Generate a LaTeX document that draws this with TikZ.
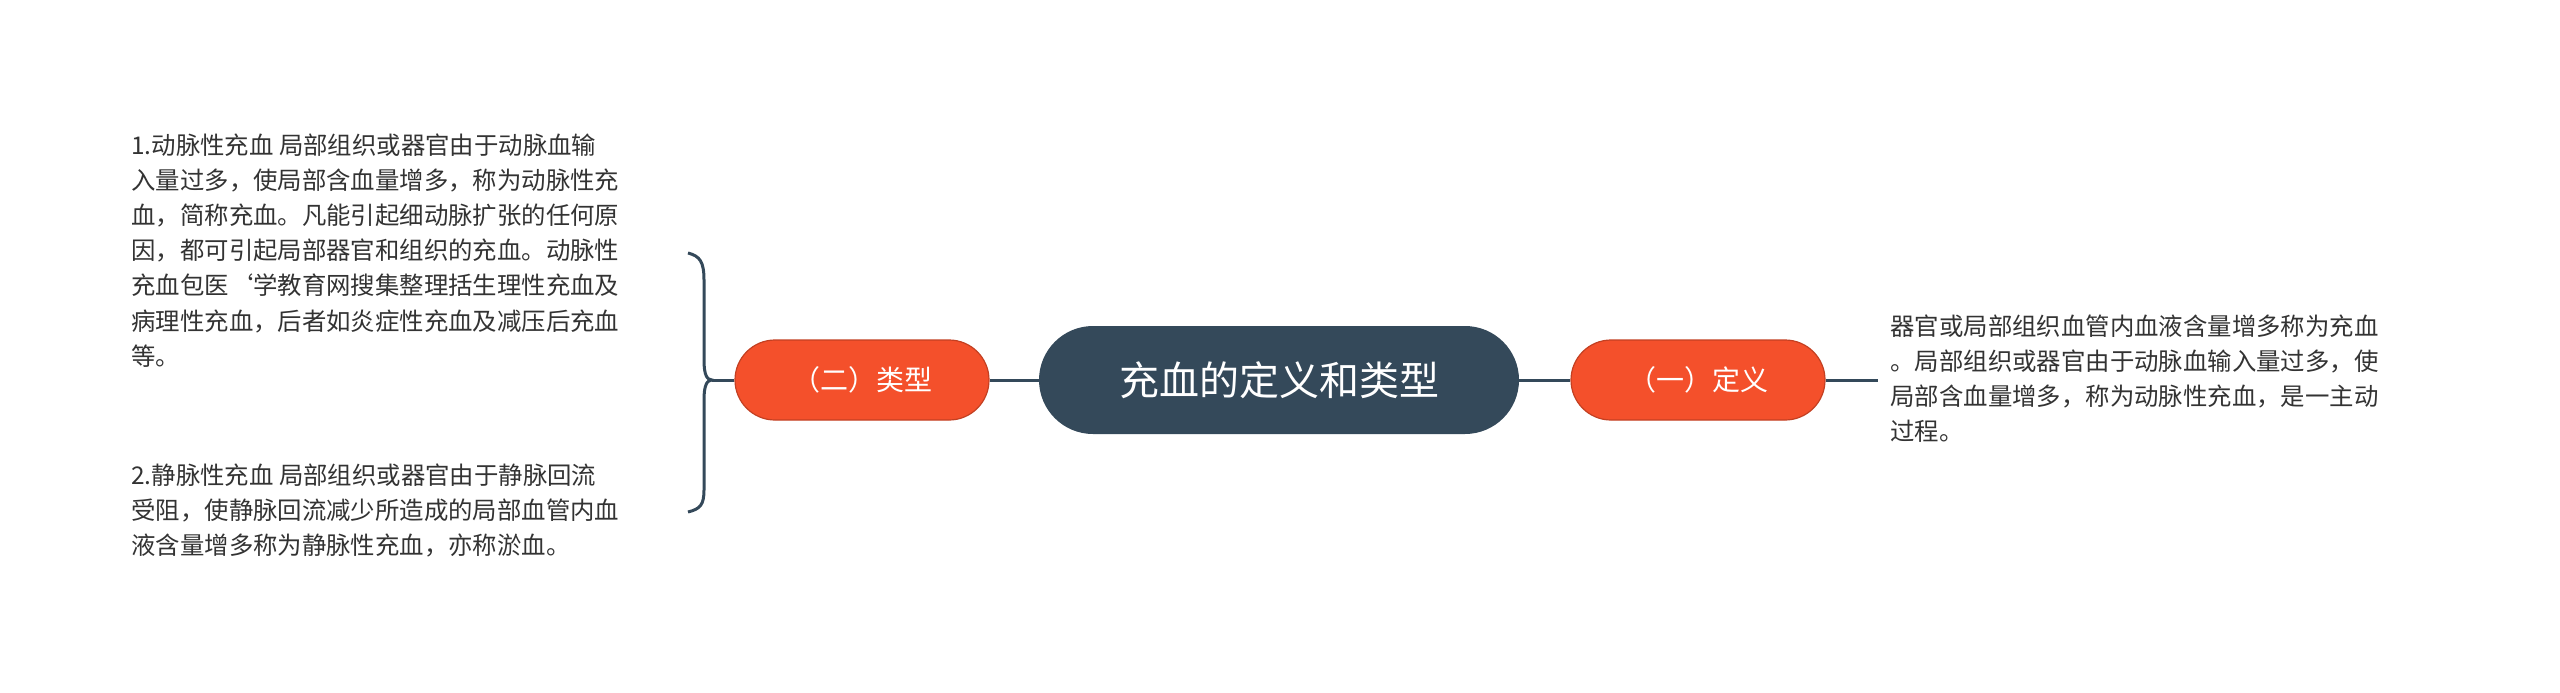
\documentclass[tikz,border=0pt]{standalone}
\usepackage{fontspec}
\setmainfont{Noto Sans CJK SC}
\begin{document}
\begin{tikzpicture}[x=0.5pt,y=-0.5pt,
  cnode/.style={draw=none,fill=black!80!blue!40!gray,fill=rootc,text=white,rounded corners=54*0.5pt,minimum width=240pt,minimum height=54pt,font=\fontsize{20}{24}\selectfont},
  onode/.style={fill=orc,draw=orc!80!black,line width=0.6pt,text=white,rounded corners=20pt,minimum width=127pt,minimum height=40pt,font=\fontsize{14}{17}\selectfont},
  txt/.style={anchor=north west,align=left,inner sep=0pt,text=textc,font=\fontsize{12.2}{17.6}\selectfont},
  conn/.style={draw=rootc,line width=1.5pt}]
\definecolor{rootc}{HTML}{34495A}
\definecolor{orc}{HTML}{F4502B}
\definecolor{textc}{HTML}{333333}
\useasboundingbox (0,0) rectangle (2560,692);
\fill[white] (0,0) rectangle (2560,692);
\node[cnode] (root) at (1279,380) {充血的定义和类型};
\node[onode] (def) at (1698,380) {（一）定义};
\node[onode] (typ) at (862,380) {（二）类型};
\coordinate (rt) at (1878,380);
\coordinate (br) at (712,380);
\draw[conn] (root) -- (def);
\draw[conn] (def) -- (rt);
\draw[conn] (root) -- (typ);
\draw[conn] (typ) -- (br);
\draw[conn] (688,253) .. controls (700,256) and (704,262) .. (704,280) -- (704,360) .. controls (704,375) and (707,380) .. (br)
 .. controls (707,380) and (704,385) .. (704,400) -- (704,490) .. controls (704,505) and (700,509) .. (688,512);
\node[txt] (t0) at (1890,314) {器官或局部组织血管内血液含量增多称为充血\\。局部组织或器官由于动脉血输入量过多，使\\局部含血量增多，称为动脉性充血，是一主动\\过程。};
\node[txt] (t1) at (131,133) {1.动脉性充血 局部组织或器官由于动脉血输\\入量过多，使局部含血量增多，称为动脉性充\\血，简称充血。凡能引起细动脉扩张的任何原\\因，都可引起局部器官和组织的充血。动脉性\\充血包医`学教育网搜集整理括生理性充血及\\病理性充血，后者如炎症性充血及减压后充血\\等。};
\node[txt] (t2) at (131,463) {2.静脉性充血 局部组织或器官由于静脉回流\\受阻，使静脉回流减少所造成的局部血管内血\\液含量增多称为静脉性充血，亦称淤血。};
\end{tikzpicture}
\end{document}
